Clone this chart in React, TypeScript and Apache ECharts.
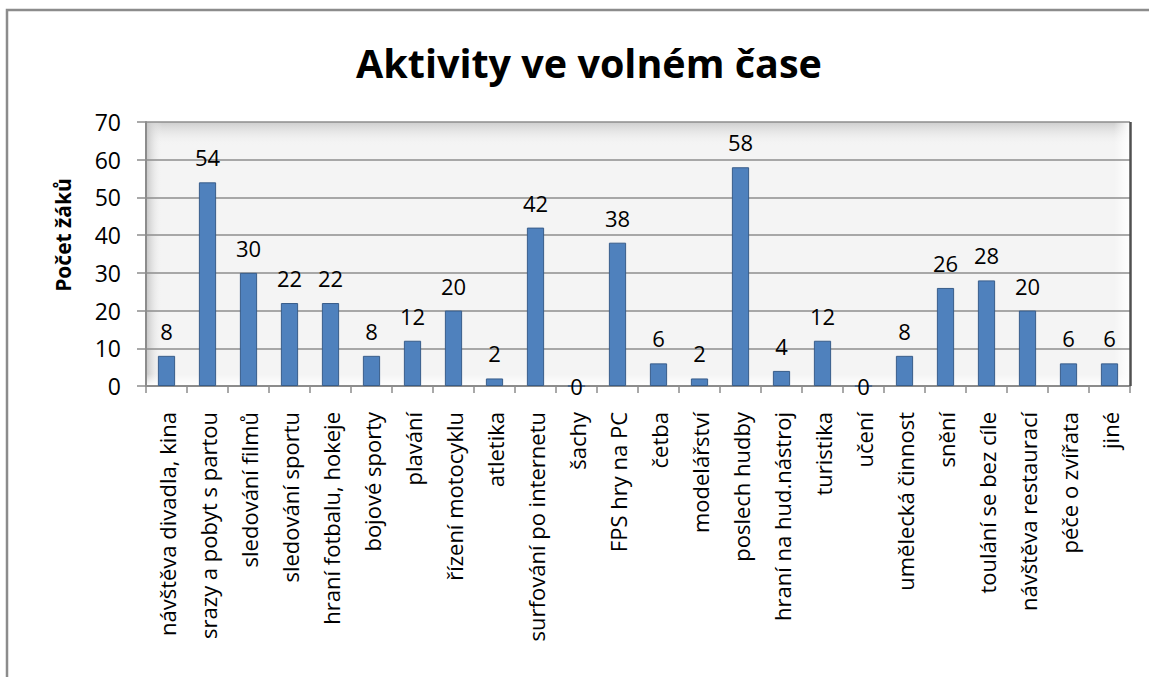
import React, { useEffect, useRef } from "react";
import * as echarts from "echarts";

const titleText = "Aktivity ve volném čase";
const yAxisName = "Počet žáků";
const categories = [
  "návštěva divadla, kina",
  "srazy a pobyt s partou",
  "sledování filmů",
  "sledování sportu",
  "hraní fotbalu, hokeje",
  "bojové sporty",
  "plavání",
  "řízení motocyklu",
  "atletika",
  "surfování po internetu",
  "šachy",
  "FPS hry na PC",
  "četba",
  "modelářství",
  "poslech hudby",
  "hraní na hud.nástroj",
  "turistika",
  "učení",
  "umělecká činnost",
  "snění",
  "toulání se bez cíle",
  "návštěva restaurací",
  "péče o zvířata",
  "jiné",
];
const values = [8, 54, 30, 22, 22, 8, 12, 20, 2, 42, 0, 38, 6, 2, 58, 4, 12, 0, 8, 26, 28, 20, 6, 6];
const yMin = 0;
const yMax = 70;
const yInterval = 10;

const W = 1149;
const H = 677;
const G = { left: 146, top: 122, right: 19, bottom: 291 };
const FONT = "'Open Sans', 'Noto Sans', sans-serif";

export default function App() {
  const ref = useRef<HTMLDivElement>(null);
  useEffect(() => {
    if (!ref.current) return;
    const chart = echarts.init(ref.current, null, { renderer: "svg" });
    const gx = G.left;
    const gy = G.top;
    const gw = W - G.left - G.right;
    const gh = H - G.top - G.bottom;
    const seriesData = values.map((v) =>
      v === 0 ? { value: v, label: { position: "inside" } } : { value: v }
    );
    chart.setOption({
      animation: false,
      backgroundColor: "#ffffff",
      textStyle: { fontFamily: FONT },
      title: {
        text: titleText,
        left: 351,
        top: 38,
        textStyle: { fontSize: 39.5, fontWeight: "bold", color: "#000", fontFamily: FONT },
      },
      grid: { left: G.left, top: G.top, right: G.right, bottom: G.bottom, containLabel: false },
      graphic: [
        {
          type: "rect",
          z: -10,
          shape: { x: 7, y: 10, width: 1300, height: 800 },
          style: { fill: "#ffffff", stroke: "#8c8c8c", lineWidth: 2.5 },
        },
        {
          type: "rect",
          z: -9,
          shape: { x: gx, y: gy, width: gw, height: gh },
          style: { fill: "#f4f4f4" },
        },
        {
          type: "rect",
          z: -8,
          shape: { x: gx, y: gy, width: gw, height: 24 },
          style: {
            fill: new echarts.graphic.LinearGradient(0, 0, 0, 1, [
              { offset: 0, color: "#cdcdcd" },
              { offset: 1, color: "rgba(244,244,244,0)" },
            ]),
          },
        },
        {
          type: "rect",
          z: -8,
          shape: { x: gx, y: gy, width: 16, height: gh },
          style: {
            fill: new echarts.graphic.LinearGradient(0, 0, 1, 0, [
              { offset: 0, color: "#c4c4c4" },
              { offset: 1, color: "rgba(244,244,244,0)" },
            ]),
          },
        },
        {
          type: "rect",
          z: -8,
          shape: { x: gx + gw - 16, y: gy, width: 16, height: gh },
          style: {
            fill: new echarts.graphic.LinearGradient(0, 0, 1, 0, [
              { offset: 0, color: "rgba(255,255,255,0)" },
              { offset: 1, color: "#ffffff" },
            ]),
          },
        },
        {
          type: "rect",
          z: -8,
          shape: { x: gx, y: gy + gh - 12, width: gw, height: 12 },
          style: {
            fill: new echarts.graphic.LinearGradient(0, 0, 0, 1, [
              { offset: 0, color: "rgba(255,255,255,0)" },
              { offset: 1, color: "#ffffff" },
            ]),
          },
        },
        {
          type: "line",
          z: 5,
          shape: { x1: gx + gw + 0.5, y1: gy, x2: gx + gw + 0.5, y2: gy + gh },
          style: { stroke: "#505050", lineWidth: 2.5 },
        },
        {
          type: "text",
          x: 63,
          y: 235,
          rotation: Math.PI / 2,
          style: {
            text: yAxisName,
            fontSize: 21,
            fontWeight: "bold",
            fontFamily: FONT,
            fill: "#000",
            align: "center",
            verticalAlign: "middle",
          },
        },
      ],
      xAxis: {
        type: "category",
        data: categories,
        boundaryGap: true,
        axisLine: { show: true, lineStyle: { color: "#8c8c8c", width: 2 } },
        axisTick: { show: true, length: 7, alignWithLabel: false, lineStyle: { color: "#8c8c8c", width: 1.5 } },
        axisLabel: {
          rotate: 90,
          interval: 0,
          margin: 26,
          fontSize: 22,
          color: "#000",
          fontFamily: FONT,
        },
        splitLine: { show: false },
      },
      yAxis: {
        type: "value",
        min: yMin,
        max: yMax,
        interval: yInterval,
        axisLine: { show: true, lineStyle: { color: "#8c8c8c", width: 2 } },
        axisTick: { show: true, length: 9, lineStyle: { color: "#8c8c8c", width: 1.5 } },
        axisLabel: { fontSize: 23, color: "#000", margin: 25, fontFamily: FONT },
        splitLine: { show: true, lineStyle: { color: "#8e8e8e", width: 1.5 } },
      },
      series: [
        {
          type: "bar",
          data: seriesData,
          barWidth: "42%",
          itemStyle: { color: "#4f81bd", borderColor: "#385d8a", borderWidth: 1 },
          label: {
            show: true,
            position: "top",
            distance: 14,
            fontSize: 22,
            color: "#000",
            fontFamily: FONT,
          },
        },
      ],
    });
    return () => chart.dispose();
  }, []);
  return (
    <div
      ref={ref}
      style={{ position: "fixed", left: 0, top: 0, width: W, height: H }}
    />
  );
}
